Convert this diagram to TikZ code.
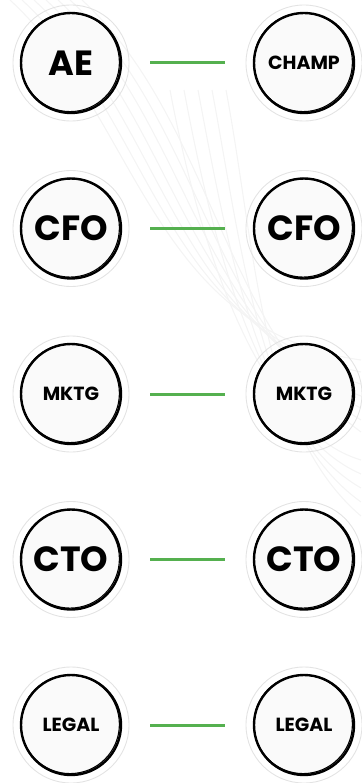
\documentclass[tikz,border=0pt]{standalone}
\usepackage{fontspec}
\newfontfamily\seatfont{Poppins}
\usetikzlibrary{positioning}
\definecolor{linkgreen}{HTML}{55B04F}
\definecolor{swirl}{HTML}{F4F4F4}

\tikzset{
  seat/.style={circle, draw=black, line width=2.4pt, fill=gray!4, minimum size=100pt,
    inner sep=0pt, font=\seatfont\bfseries\fontsize{35}{35}\selectfont},
  smalltext/.style={font=\seatfont\bfseries\fontsize{19}{19}\selectfont},
  link/.style={draw=linkgreen, line width=3pt, shorten >=28pt, shorten <=28pt},
  halo/.style={draw=gray!22, line width=0.9pt},
  sketch/.style={draw=black, line width=1.1pt},
}

\begin{document}
\begin{tikzpicture}[x=1pt, y=1pt, node distance=165.5pt and 233pt, on grid]
\useasboundingbox (0,0) rectangle (361,-783);
% faint strokes in the background
\foreach \d in {0,12,...,72}
  \draw [swirl, line width=1.1pt] (10+\d,0) .. controls (140+\d,-120) and (150+\d,-330) .. (361,-360-\d);
\foreach \d in {0,14,...,56}
  \draw [swirl, line width=1.1pt] (170+\d,-90) .. controls (200+\d,-250) and (260,-430) .. (361,-460-\d);

\node [seat] (ae) at (71,-63) {AE};
\node [seat, smalltext] (champ) [right = of ae] {CHAMP};
\node [seat] (cfo_l) [below = of ae] {CFO};
\node [seat] (cfo_r) [right = of cfo_l] {CFO};
\node [seat, smalltext] (mktg_l) [below = of cfo_l] {MKTG};
\node [seat, smalltext] (mktg_r) [right = of mktg_l] {MKTG};
\node [seat] (cto_l) [below = of mktg_l] {CTO};
\node [seat] (cto_r) [right = of cto_l] {CTO};
\node [seat, smalltext] (legal_l) [below = of cto_l] {LEGAL};
\node [seat, smalltext] (legal_r) [right = of legal_l] {LEGAL};

% rough second stroke and light halo round each seat
\foreach \n in {ae,champ,cfo_l,cfo_r,mktg_l,mktg_r,cto_l,cto_r,legal_l,legal_r} {
  \draw [halo] (\n.center) circle [radius=58];
  \draw [sketch] ([shift={(-0.9,0.7)}]\n.center) circle [radius=49.3];
}

\path [link]
(ae) edge (champ)
(cfo_l) edge (cfo_r)
(mktg_l) edge (mktg_r)
(cto_l) edge (cto_r)
(legal_l) edge (legal_r);
\end{tikzpicture}
\end{document}
